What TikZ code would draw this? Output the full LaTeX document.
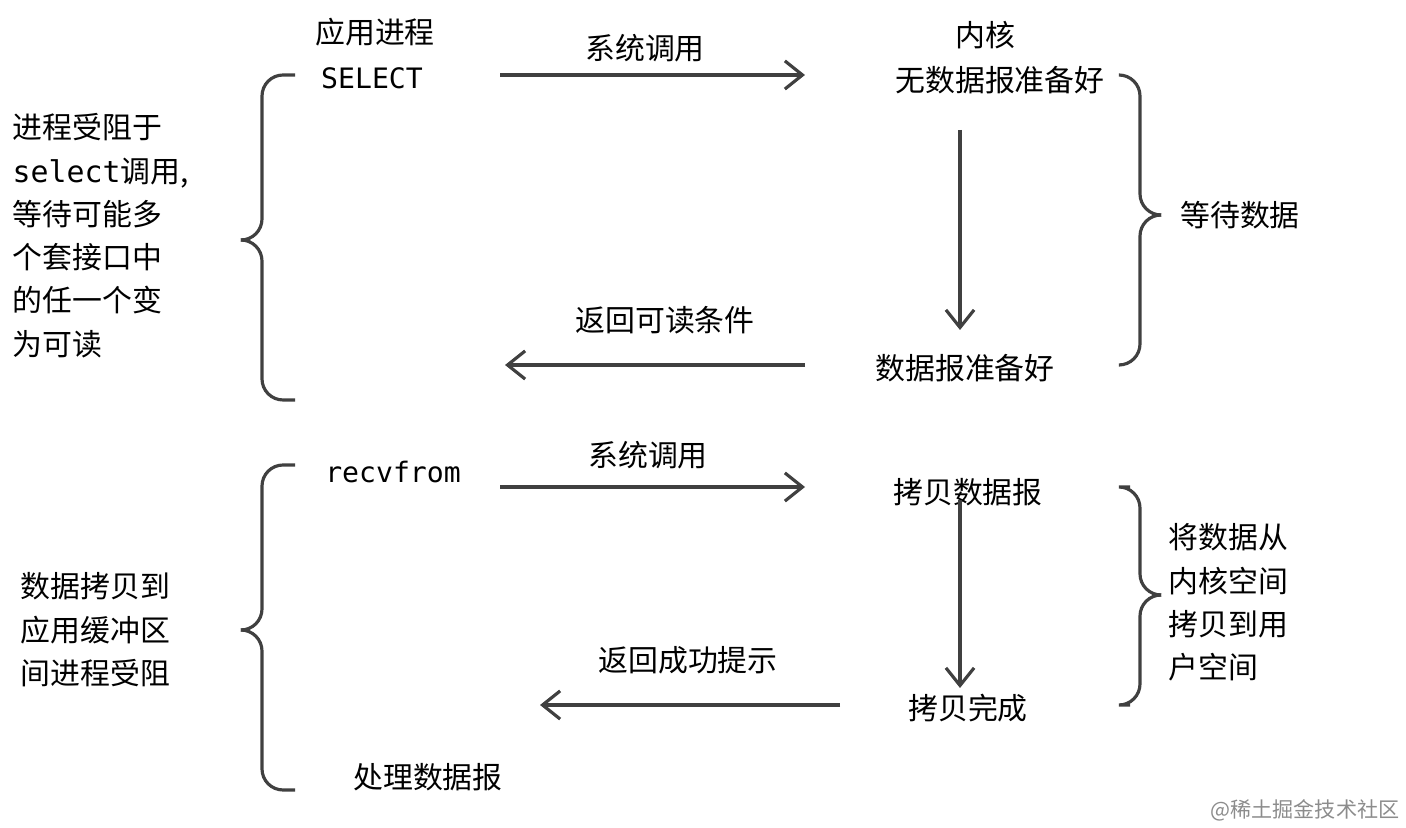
\documentclass[tikz,border=0pt]{standalone}
\usepackage{fontspec}
\setmainfont{Noto Sans CJK SC}
\newfontfamily\mono{DejaVu Sans Mono}
\usetikzlibrary{arrows.meta}
\begin{document}
\begin{tikzpicture}[x=0.01cm,y=-0.01cm,
  txt/.style={inner sep=0pt,font=\fontsize{8.5}{12.3}\selectfont},
  mtxt/.style={inner sep=0pt,font=\mono\fontsize{8}{10}\selectfont},
  arr/.style={draw=black!75,line width=0.9pt,-{Straight Barb[length=5pt,width=8pt]}},
  brace/.style={draw=black!75,line width=0.9pt,rounded corners=6pt}]
\useasboundingbox (0,0) rectangle (1406,828);
% top section
\node[txt] (app) at (375,32) {应用进程};
\node[mtxt] (sel) at (372,78) {SELECT};
\node[txt] (kern) at (985,35) {内核};
\node[txt] (nodata) at (1000,80) {无数据报准备好};
\node[txt] (ready) at (965,368) {数据报准备好};
\node[txt] (sc1) at (645,48) {系统调用};
\node[txt] (ret1) at (665,320) {返回可读条件};
\coordinate (a1s) at (500,75); \coordinate (a1e) at (805,75);
\draw[arr] (a1s) -- (a1e);
\coordinate (v1s) at (960,130); \coordinate (v1e) at (960,330);
\draw[arr] (v1s) -- (v1e);
\coordinate (a2s) at (805,365); \coordinate (a2e) at (505,365);
\draw[arr] (a2s) -- (a2e);
\node[txt,align=left,anchor=north west] (lt1) at (12,113) {进程受阻于\\{\mono select}调用,\\等待可能多\\个套接口中\\的任一个变\\为可读};
\draw[brace] (295,75) -- (262,75) -- (262,240) -- (250,240);
\draw[brace] (295,400) -- (262,400) -- (262,240) -- (250,240);
\draw[brace] (1120,75) -- (1140,75) -- (1140,215) -- (1152,215);
\draw[brace] (1120,365) -- (1140,365) -- (1140,215) -- (1152,215);
\node[txt] (wait) at (1240,215) {等待数据};
% bottom section
\node[mtxt] (recv) at (393,472) {recvfrom};
\node[txt] (sc2) at (648,455) {系统调用};
\node[txt] (copy) at (968,492) {拷贝数据报};
\node[txt] (done) at (968,708) {拷贝完成};
\node[txt] (ret2) at (688,660) {返回成功提示};
\node[txt] (proc) at (428,777) {处理数据报};
\coordinate (b1s) at (500,487); \coordinate (b1e) at (805,487);
\draw[arr] (b1s) -- (b1e);
\coordinate (v2s) at (960,500); \coordinate (v2e) at (960,688);
\draw[arr] (v2s) -- (v2e);
\coordinate (b2s) at (840,705); \coordinate (b2e) at (540,705);
\draw[arr] (b2s) -- (b2e);
\node[txt,align=left,anchor=north west] (lt2) at (20,572) {数据拷贝到\\应用缓冲区\\间进程受阻};
\draw[brace] (295,465) -- (262,465) -- (262,630) -- (248,630);
\draw[brace] (295,790) -- (262,790) -- (262,630) -- (248,630);
\draw[brace] (1130,487) -- (1140,487) -- (1140,595) -- (1152,595);
\draw[brace] (1130,705) -- (1140,705) -- (1140,595) -- (1152,595);
\node[txt,align=left,anchor=north west] (rt2) at (1168,523) {将数据从\\内核空间\\拷贝到用\\户空间};
\node[inner sep=0pt,text=black!45,font=\fontsize{6}{7}\selectfont,anchor=east] (wm) at (1400,810) {@稀土掘金技术社区};
\end{tikzpicture}
\end{document}
